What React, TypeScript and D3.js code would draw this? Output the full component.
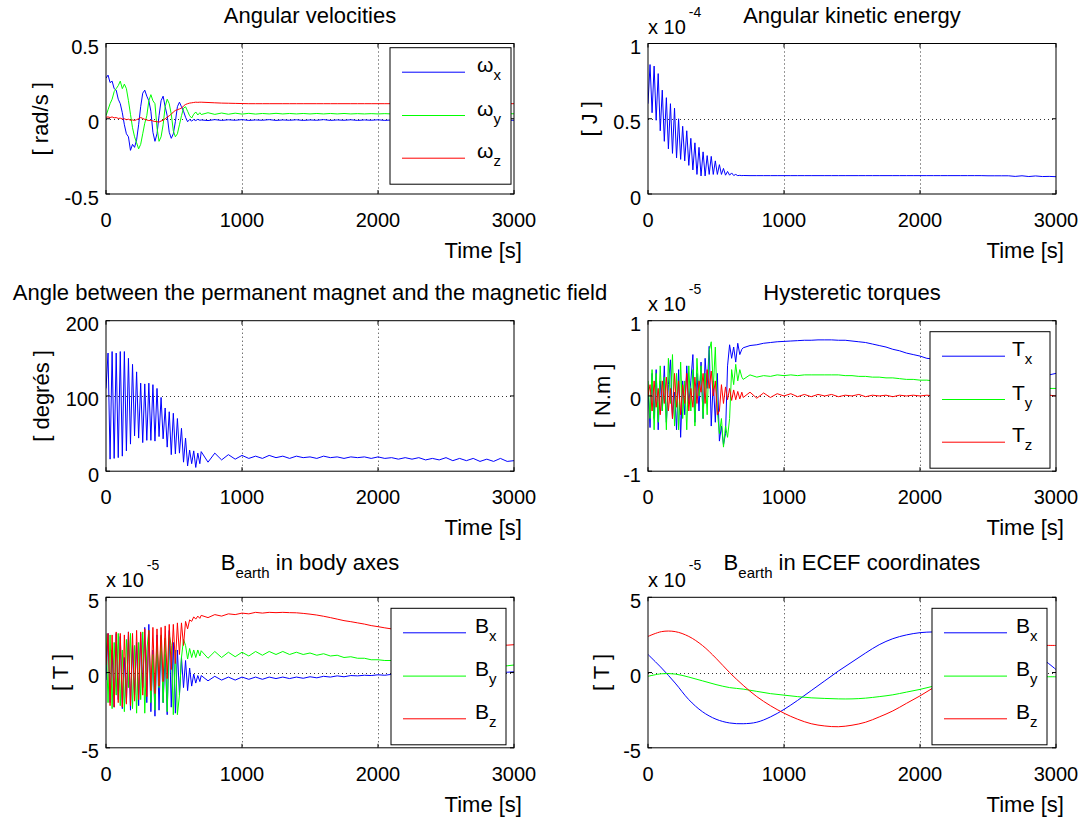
import React from 'react';
import * as d3 from 'd3';

const FONT = '"Liberation Sans", Arial, Helvetica, sans-serif';
const BLUE = '#0000ff';
const GREEN = '#00ff00';
const RED = '#ff0000';

// ---------- time grids ----------
const tFast = [0, 15, 30, 45, 60, 75, 90, 105, 120, 135, 150, 165, 180, 195, 210, 225, 240, 255, 270, 285, 300, 315, 330, 345, 360, 375, 390, 405, 420, 435, 450, 465, 480, 495, 510, 525, 540, 555, 570, 585, 600, 615, 630, 645, 660, 675, 690];
const tSlow = [700, 750, 800, 850, 900, 950, 1000, 1050, 1100, 1150, 1200, 1250, 1300, 1350, 1400, 1450, 1500, 1550, 1600, 1650, 1700, 1750, 1800, 1850, 1900, 1950, 2000, 2050, 2100, 2150, 2200, 2250, 2300, 2350, 2400, 2450, 2500, 2550, 2600, 2650, 2700, 2750, 2800, 2850, 2900, 2950, 3000];
const tEcef = [0, 100, 200, 300, 400, 500, 600, 700, 800, 900, 1000, 1100, 1200, 1300, 1400, 1500, 1600, 1700, 1800, 1900, 2000, 2100, 2200, 2300, 2400, 2500, 2600, 2700, 2800, 2900, 3000];

const xTicks = [0, 1000, 2000, 3000];
const xTickLabels = ['0', '1000', '2000', '3000'];

// ---------- Angular velocities [rad/s] ----------
const wxFast = [0.27, 0.29, 0.24, 0.25, 0.2, 0.19, 0.13, 0.1, 0.04, -0.04, -0.1, -0.12, -0.21, -0.17, -0.19, -0.14, -0.04, 0.08, 0.17, 0.19, 0.15, 0.12, 0.05, -0.09, -0.15, -0.1, 0.02, 0.12, 0.15, 0.08, 0.02, -0.09, -0.13, -0.1, -0.02, 0.08, 0.11, 0.08, 0.05, 0.01, -0.02, -0.005, -0.015, -0.005, -0.012, -0.004, -0.01];
const wxSlow = [-0.008, -0.012, -0.006, -0.011, -0.007, -0.01, -0.006, -0.011, -0.008, -0.01, -0.006, -0.011, -0.008, -0.01, -0.007, -0.011, -0.008, -0.01, -0.006, -0.011, -0.008, -0.01, -0.007, -0.011, -0.008, -0.01, -0.007, -0.011, -0.008, -0.01, -0.007, -0.011, -0.008, -0.01, -0.007, -0.011, -0.008, -0.01, -0.007, -0.011, -0.008, -0.01, -0.007, -0.011, -0.008, -0.01, -0.01];
const wyFast = [0.02, 0.06, 0.1, 0.13, 0.18, 0.2, 0.22, 0.25, 0.2, 0.23, 0.2, 0.12, 0.03, -0.06, -0.12, -0.16, -0.2, -0.17, -0.1, -0.03, 0.02, 0.12, 0.16, 0.12, 0.1, -0.06, -0.15, -0.12, -0.04, 0.08, 0.13, 0.1, 0.03, -0.08, -0.12, -0.1, -0.04, 0.02, 0.07, 0.08, 0.05, 0.02, 0.005, 0.03, 0.045, 0.025, 0.04];
const wySlow = [0.028, 0.04, 0.029, 0.038, 0.03, 0.037, 0.031, 0.036, 0.031, 0.035, 0.032, 0.036, 0.032, 0.035, 0.032, 0.035, 0.032, 0.035, 0.032, 0.035, 0.032, 0.035, 0.032, 0.034, 0.032, 0.034, 0.032, 0.034, 0.032, 0.034, 0.032, 0.034, 0.032, 0.034, 0.032, 0.034, 0.032, 0.034, 0.032, 0.034, 0.032, 0.034, 0.032, 0.034, 0.032, 0.034, 0.033];
const wzFast = [0.01, 0.012, 0.008, 0.012, 0.006, 0.008, 0.002, 0.004, -0.002, 0.0, -0.006, -0.003, -0.01, -0.008, -0.012, -0.006, 0.0, 0.008, 0.002, -0.004, -0.008, -0.012, -0.01, -0.015, -0.018, -0.02, -0.022, -0.015, -0.01, 0.0, 0.01, 0.02, 0.03, 0.045, 0.055, 0.06, 0.065, 0.07, 0.085, 0.095, 0.1, 0.104, 0.106, 0.108, 0.11, 0.109, 0.11];
const wzSlow = [0.11, 0.108, 0.106, 0.104, 0.103, 0.102, 0.101, 0.1, 0.1, 0.1, 0.1, 0.1, 0.1, 0.1, 0.1, 0.1, 0.1, 0.1, 0.1, 0.1, 0.1, 0.1, 0.1, 0.1, 0.1, 0.1, 0.1, 0.1, 0.1, 0.1, 0.1, 0.1, 0.1, 0.1, 0.1, 0.1, 0.1, 0.1, 0.1, 0.1, 0.1, 0.1, 0.1, 0.1, 0.1, 0.1, 0.1];

// ---------- Angular kinetic energy [x1e-4 J] ----------
const keFast = [0.6, 0.86, 0.54, 0.85, 0.49, 0.8, 0.42, 0.69, 0.35, 0.64, 0.3, 0.6, 0.27, 0.57, 0.24, 0.5, 0.23, 0.45, 0.22, 0.42, 0.19, 0.37, 0.16, 0.34, 0.13, 0.31, 0.12, 0.28, 0.12, 0.255, 0.13, 0.25, 0.13, 0.22, 0.13, 0.195, 0.13, 0.17, 0.125, 0.15, 0.125, 0.14, 0.123, 0.13, 0.122, 0.124, 0.122];
const keSlow = [0.123, 0.122, 0.122, 0.122, 0.122, 0.122, 0.122, 0.122, 0.122, 0.122, 0.122, 0.122, 0.122, 0.122, 0.122, 0.122, 0.122, 0.122, 0.122, 0.122, 0.122, 0.122, 0.122, 0.122, 0.122, 0.122, 0.122, 0.122, 0.122, 0.122, 0.122, 0.122, 0.122, 0.122, 0.122, 0.122, 0.121, 0.121, 0.121, 0.121, 0.117, 0.121, 0.116, 0.12, 0.116, 0.117, 0.115];

// ---------- Angle magnet / field [deg] ----------
const angFast = [110, 157, 16, 159, 17, 157, 18, 159, 20, 159, 27, 150, 36, 142, 47, 132, 44, 117, 38, 116, 41, 117, 41, 115, 40, 110, 46, 98, 43, 84, 32, 79, 22, 77, 23, 70, 24, 57, 12, 44, 7, 28, 10, 27, 5, 24, 10];
const angSlow = [26, 12, 24, 15, 22, 16, 21, 17, 20, 17, 21, 18, 20, 17, 20, 18, 19, 17, 20, 18, 19, 17, 19, 18, 19, 17, 19, 17, 18, 16, 18, 16, 18, 15, 17, 15, 18, 14, 17, 14, 17, 13, 16, 13, 17, 13, 14];

// ---------- Hysteretic torques [x1e-5 N.m] ----------
const txFast = [0.1, -0.42, 0.3, -0.3, 0.35, -0.45, 0.2, -0.2, 0.4, -0.35, 0.15, 0.48, -0.3, 0.05, -0.45, 0.35, -0.55, 0.2, -0.25, 0.4, -0.1, 0.2, 0.55, -0.35, 0.3, -0.2, 0.45, -0.3, 0.5, 0.1, 0.66, -0.4, 0.2, -0.35, 0.3, -0.6, -0.4, -0.65, -0.5, 0.4, 0.68, 0.5, 0.65, 0.45, 0.7, 0.55, 0.62];
const txSlow = [0.64, 0.67, 0.68, 0.7, 0.71, 0.72, 0.725, 0.73, 0.735, 0.74, 0.74, 0.745, 0.745, 0.745, 0.74, 0.74, 0.73, 0.72, 0.71, 0.69, 0.67, 0.65, 0.62, 0.6, 0.57, 0.55, 0.53, 0.5, 0.49, 0.47, 0.46, 0.44, 0.43, 0.41, 0.4, 0.38, 0.37, 0.36, 0.34, 0.33, 0.32, 0.31, 0.3, 0.29, 0.28, 0.28, 0.3];
const tyFast = [0.2, -0.3, 0.35, -0.45, 0.3, -0.35, 0.4, -0.2, 0.25, -0.45, 0.5, -0.1, 0.55, -0.4, 0.3, -0.45, 0.45, -0.3, 0.2, -0.45, 0.4, -0.2, 0.35, -0.4, 0.5, 0.0, 0.4, -0.3, 0.3, -0.25, 0.6, 0.72, 0.1, 0.65, -0.2, -0.5, -0.3, -0.68, -0.4, -0.55, -0.3, 0.35, 0.15, 0.42, 0.2, 0.35, 0.25];
const tySlow = [0.22, 0.28, 0.25, 0.27, 0.26, 0.28, 0.27, 0.28, 0.27, 0.28, 0.28, 0.28, 0.28, 0.28, 0.28, 0.27, 0.27, 0.26, 0.26, 0.25, 0.25, 0.24, 0.24, 0.23, 0.22, 0.22, 0.21, 0.21, 0.2, 0.2, 0.19, 0.19, 0.18, 0.17, 0.17, 0.16, 0.15, 0.15, 0.14, 0.13, 0.13, 0.12, 0.12, 0.11, 0.11, 0.1, 0.1];
const tzFast = [0.0, 0.15, -0.2, 0.2, -0.15, 0.1, -0.25, 0.2, -0.1, 0.25, -0.2, 0.1, -0.3, 0.3, -0.15, 0.2, -0.25, 0.15, -0.1, 0.3, -0.2, 0.1, -0.15, 0.25, -0.1, 0.2, 0.05, 0.3, -0.1, 0.35, 0.1, 0.33, 0.0, 0.2, -0.25, -0.2, 0.15, -0.1, 0.12, -0.05, 0.1, -0.06, 0.08, -0.05, 0.06, -0.04, 0.05];
const tzSlow = [-0.02, 0.05, -0.03, 0.04, -0.02, 0.03, 0.0, 0.03, -0.01, 0.02, -0.01, 0.02, 0.0, 0.02, -0.01, 0.01, 0.0, 0.02, -0.01, 0.01, 0.0, 0.01, -0.01, 0.01, 0.0, 0.01, 0.0, 0.01, 0.0, 0.01, 0.0, 0.01, 0.0, 0.01, 0.0, 0.01, 0.0, 0.01, 0.0, 0.01, 0.0, 0.01, 0.0, 0.01, 0.0, 0.01, 0.0];

// ---------- B earth in body axes [x1e-5 T] ----------
const bxFast = [-0.5, 2.6, -2.0, 1.5, -2.3, 2.6, -1.8, 2.4, -2.4, 1.0, -2.0, 2.7, -2.5, 1.8, -1.5, 2.0, -2.2, 2.6, -1.0, 3.0, -2.0, 3.2, -2.6, 1.5, -2.9, 2.5, -2.5, 2.4, -2.0, 1.2, -2.8, 2.8, -2.3, 2.0, -2.7, 1.5, -1.5, 1.0, -1.0, 0.8, -1.2, 0.3, -0.9, -0.1, -0.7, -0.2, -0.6];
const bxSlow = [-0.2, -0.55, -0.25, -0.5, -0.3, -0.5, -0.3, -0.45, -0.3, -0.45, -0.3, -0.4, -0.3, -0.4, -0.3, -0.38, -0.28, -0.35, -0.25, -0.3, -0.22, -0.28, -0.2, -0.22, -0.18, -0.2, -0.15, -0.18, -0.12, -0.15, -0.1, -0.12, -0.08, -0.1, -0.06, -0.08, -0.04, -0.06, -0.02, -0.04, 0.0, -0.02, 0.02, 0.0, 0.04, 0.02, 0.05];
const byFast = [2.6, -2.0, 2.5, -2.4, 2.0, -1.5, 2.6, -2.2, 1.5, -2.6, 2.2, -1.0, 2.6, -2.4, 1.8, -2.7, 2.0, -1.8, 2.7, -2.7, 1.5, 2.8, -2.0, 1.2, -2.5, 2.0, -1.0, 2.5, -2.0, 2.3, -2.6, 2.5, 1.8, -2.8, 1.5, -2.8, -1.5, 1.0, 2.2, 1.8, 0.9, 1.6, 1.0, 1.5, 1.0, 1.5, 1.1];
const bySlow = [1.45, 0.95, 1.4, 1.0, 1.35, 1.05, 1.35, 1.1, 1.4, 1.15, 1.4, 1.2, 1.4, 1.2, 1.35, 1.2, 1.3, 1.15, 1.25, 1.1, 1.15, 1.0, 1.05, 0.95, 0.95, 0.85, 0.85, 0.8, 0.8, 0.75, 0.75, 0.7, 0.7, 0.65, 0.65, 0.6, 0.6, 0.55, 0.55, 0.5, 0.5, 0.5, 0.45, 0.45, 0.4, 0.45, 0.5];
const bzFast = [0.5, 2.6, -2.2, 2.5, -2.3, 2.7, -2.0, 2.6, -2.3, 2.5, -2.1, 2.7, -2.2, 2.6, -1.9, 2.8, -1.8, 2.7, -1.5, 2.9, -1.6, 2.8, -1.2, 3.0, -1.4, 2.9, -0.9, 3.0, -0.6, 3.1, -0.4, 3.2, 0.2, 3.2, 0.6, 3.3, 1.2, 3.3, 1.8, 3.4, 2.9, 3.5, 3.4, 3.7, 3.55, 3.75, 3.6];
const bzSlow = [3.8, 3.65, 3.85, 3.75, 3.9, 3.85, 3.95, 3.9, 4.0, 3.95, 4.0, 3.98, 4.0, 3.98, 3.97, 3.93, 3.88, 3.82, 3.74, 3.65, 3.55, 3.45, 3.38, 3.3, 3.22, 3.12, 3.05, 2.97, 2.9, 2.82, 2.75, 2.68, 2.6, 2.52, 2.45, 2.38, 2.3, 2.23, 2.17, 2.1, 2.04, 1.98, 1.92, 1.88, 1.85, 1.82, 1.85];

// ---------- B earth in ECEF [x1e-5 T] ----------
const exVals = [1.2, 0.3, -0.7, -1.8, -2.6, -3.1, -3.35, -3.4, -3.3, -2.95, -2.45, -1.85, -1.2, -0.55, 0.1, 0.7, 1.3, 1.85, 2.25, 2.5, 2.65, 2.7, 2.7, 2.6, 2.45, 2.25, 2.0, 1.7, 1.35, 0.9, 0.2];
const eyVals = [-0.25, -0.08, -0.1, -0.3, -0.55, -0.8, -1.0, -1.1, -1.25, -1.4, -1.5, -1.6, -1.68, -1.72, -1.75, -1.75, -1.7, -1.6, -1.48, -1.3, -1.12, -0.9, -0.7, -0.55, -0.45, -0.38, -0.32, -0.3, -0.28, -0.28, -0.28];
const ezVals = [2.4, 2.72, 2.72, 2.4, 1.8, 0.95, 0.0, -0.85, -1.6, -2.2, -2.7, -3.1, -3.4, -3.55, -3.6, -3.5, -3.3, -2.95, -2.55, -2.05, -1.55, -1.0, -0.45, 0.1, 0.6, 1.0, 1.35, 1.6, 1.75, 1.8, 1.8];

// ---------- helpers ----------
type Pt = [number, number];
const pair = (t: number[], v: number[]): Pt[] => t.map((ti, i) => [ti, v[i]] as Pt);
const joined = (t1: number[], v1: number[], t2: number[], v2: number[]): Pt[] => pair(t1, v1).concat(pair(t2, v2));

// ---------- layout ----------
const W = 408;
const H = 150.5;
const COLS = [106, 648];
const ROWS = [43.5, 320.7, 597.3];

type Seg = { text: string; sub?: boolean };
type Series = { color: string; pts: Pt[]; name: string };
type Legend = { sym: string; inset: number; topInset: number; w: number; textDx: number };
type PanelCfg = {
  col: number; row: number;
  yDomain: [number, number]; yTicks: number[]; yLabels: string[];
  title: Seg[]; ylabel: string; ylabelDx: number; exponent?: string;
  series: Series[]; legend?: Legend; smooth?: boolean;
};

const PANELS: PanelCfg[] = [
  {
    col: 0, row: 0, yDomain: [-0.5, 0.5], yTicks: [-0.5, 0, 0.5], yLabels: ['-0.5', '0', '0.5'],
    title: [{ text: 'Angular velocities' }], ylabel: '[ rad/s ]', ylabelDx: -66,
    series: [
      { name: 'x', color: BLUE, pts: joined(tFast, wxFast, tSlow, wxSlow) },
      { name: 'y', color: GREEN, pts: joined(tFast, wyFast, tSlow, wySlow) },
      { name: 'z', color: RED, pts: joined(tFast, wzFast, tSlow, wzSlow) },
    ],
    legend: { sym: 'ω', inset: 3, topInset: 4.2, w: 121, textDx: 87 },
  },
  {
    col: 1, row: 0, yDomain: [0, 1], yTicks: [0, 0.5, 1], yLabels: ['0', '0.5', '1'],
    title: [{ text: 'Angular kinetic energy' }], ylabel: '[ J ]', ylabelDx: -59, exponent: '-4',
    series: [{ name: '', color: BLUE, pts: joined(tFast, keFast, tSlow, keSlow) }],
  },
  {
    col: 0, row: 1, yDomain: [0, 200], yTicks: [0, 100, 200], yLabels: ['0', '100', '200'],
    title: [{ text: 'Angle between the permanent magnet and the magnetic field' }], ylabel: '[ degrés ]', ylabelDx: -65,
    series: [{ name: '', color: BLUE, pts: joined(tFast, angFast, tSlow, angSlow) }],
  },
  {
    col: 1, row: 1, yDomain: [-1, 1], yTicks: [-1, 0, 1], yLabels: ['-1', '0', '1'],
    title: [{ text: 'Hysteretic torques' }], ylabel: '[ N.m ]', ylabelDx: -46, exponent: '-5',
    series: [
      { name: 'x', color: BLUE, pts: joined(tFast, txFast, tSlow, txSlow) },
      { name: 'y', color: GREEN, pts: joined(tFast, tyFast, tSlow, tySlow) },
      { name: 'z', color: RED, pts: joined(tFast, tzFast, tSlow, tzSlow) },
    ],
    legend: { sym: 'T', inset: 6, topInset: 11, w: 120, textDx: 82 },
  },
  {
    col: 0, row: 2, yDomain: [-5, 5], yTicks: [-5, 0, 5], yLabels: ['-5', '0', '5'],
    title: [{ text: 'B' }, { text: 'earth', sub: true }, { text: ' in body axes' }], ylabel: '[ T ]', ylabelDx: -46, exponent: '-5',
    series: [
      { name: 'x', color: BLUE, pts: joined(tFast, bxFast, tSlow, bxSlow) },
      { name: 'y', color: GREEN, pts: joined(tFast, byFast, tSlow, bySlow) },
      { name: 'z', color: RED, pts: joined(tFast, bzFast, tSlow, bzSlow) },
    ],
    legend: { sym: 'B', inset: 8, topInset: 11, w: 115, textDx: 84 },
  },
  {
    col: 1, row: 2, yDomain: [-5, 5], yTicks: [-5, 0, 5], yLabels: ['-5', '0', '5'],
    title: [{ text: 'B' }, { text: 'earth', sub: true }, { text: ' in ECEF coordinates' }], ylabel: '[ T ]', ylabelDx: -47, exponent: '-5',
    series: [
      { name: 'x', color: BLUE, pts: pair(tEcef, exVals) },
      { name: 'y', color: GREEN, pts: pair(tEcef, eyVals) },
      { name: 'z', color: RED, pts: pair(tEcef, ezVals) },
    ],
    legend: { sym: 'B', inset: 9, topInset: 11, w: 115, textDx: 84 },
    smooth: true,
  },
];

function Panel({ cfg, idx }: { cfg: PanelCfg; idx: number }) {
  const left = COLS[cfg.col];
  const top = ROWS[cfg.row];
  const right = left + W;
  const bottom = top + H;
  const x = d3.scaleLinear().domain([0, 3000]).range([left, right]);
  const y = d3.scaleLinear().domain(cfg.yDomain).range([bottom, top]);
  const line = d3.line<Pt>().x(d => x(d[0])).y(d => y(d[1]))
    .curve(cfg.smooth ? d3.curveCatmullRom : d3.curveLinear);
  const clipId = `clip${idx}`;
  const hasSub = cfg.title.some(s => s.sub);
  const titleY = hasSub ? top - 27 : top - 21;
  const tickLen = 4;

  const lg = cfg.legend;
  const lgH = 136.5;
  const lgX0 = lg ? right - lg.inset - lg.w : 0;
  const lgY0 = lg ? top + lg.topInset : 0;
  const rowDy = [24.5, 67.8, 110.5];

  return (
    <g>
      <defs>
        <clipPath id={clipId}>
          <rect x={left} y={top} width={W} height={H} />
        </clipPath>
      </defs>
      <rect x={left} y={top} width={W} height={H} fill="#fff" />
      {/* grid */}
      <g stroke="#000" strokeWidth={1} strokeDasharray="1 3" opacity={0.8}>
        {xTicks.slice(1, -1).map(t => (
          <line key={`gx${t}`} x1={Math.round(x(t)) + 0.5} x2={Math.round(x(t)) + 0.5} y1={top} y2={bottom} />
        ))}
        {cfg.yTicks.slice(1, -1).map(t => (
          <line key={`gy${t}`} x1={left} x2={right} y1={Math.round(y(t)) + 0.5} y2={Math.round(y(t)) + 0.5} />
        ))}
      </g>
      {/* data */}
      <g clipPath={`url(#${clipId})`} fill="none" strokeWidth={1}>
        {cfg.series.map((s, i) => (
          <path key={i} d={line(s.pts) || ''} stroke={s.color} strokeLinejoin="round" />
        ))}
      </g>
      {/* ticks */}
      <g stroke="#000" strokeWidth={1}>
        {xTicks.map(t => (
          <g key={`tx${t}`}>
            <line x1={x(t)} x2={x(t)} y1={bottom} y2={bottom - tickLen} />
            <line x1={x(t)} x2={x(t)} y1={top} y2={top + tickLen} />
          </g>
        ))}
        {cfg.yTicks.map(t => (
          <g key={`ty${t}`}>
            <line x1={left} x2={left + tickLen} y1={y(t)} y2={y(t)} />
            <line x1={right} x2={right - tickLen} y1={y(t)} y2={y(t)} />
          </g>
        ))}
      </g>
      <rect x={left} y={top} width={W} height={H} fill="none" stroke="#000" strokeWidth={1} />
      {/* legend */}
      {lg && (
        <g>
          <rect x={lgX0} y={lgY0} width={lg.w} height={lgH} fill="#fff" stroke="#000" strokeWidth={1} />
          {cfg.series.map((s, i) => (
            <g key={`lg${i}`}>
              <line x1={lgX0 + 12} x2={lgX0 + 75} y1={lgY0 + rowDy[i]} y2={lgY0 + rowDy[i]} stroke={s.color} strokeWidth={1} />
              <text x={lgX0 + lg.textDx} y={lgY0 + rowDy[i]} fontSize={21} fontFamily={FONT} fill="#000">
                {lg.sym}
                <tspan fontSize={15} dy={8}>{s.name}</tspan>
              </text>
            </g>
          ))}
        </g>
      )}
      {/* tick labels */}
      <g fontFamily={FONT} fontSize={20} fill="#000">
        {xTicks.map((t, i) => (
          <text key={`xl${t}`} x={x(t)} y={bottom + 33} textAnchor="middle">{xTickLabels[i]}</text>
        ))}
        {cfg.yTicks.map((t, i) => (
          <text key={`yl${t}`} x={left - 7} y={y(t) + 10.5} textAnchor="end">{cfg.yLabels[i]}</text>
        ))}
      </g>
      {cfg.exponent && (
        <text x={left} y={top - 10} fontFamily={FONT} fontSize={20} fill="#000">
          x 10
          <tspan dx={3} dy={-17} fontSize={14}>{cfg.exponent}</tspan>
        </text>
      )}
      {/* x label */}
      <text x={right + 8} y={bottom + 64} textAnchor="end" fontFamily={FONT} fontSize={22} fill="#000">Time [s]</text>
      {/* y label */}
      <text
        transform={`translate(${left + cfg.ylabelDx},${top + H / 2}) rotate(-90)`}
        textAnchor="middle" dominantBaseline="central" fontFamily={FONT} fontSize={22} fill="#000"
      >{cfg.ylabel}</text>
      {/* title */}
      <text x={(left + right) / 2} y={titleY} textAnchor="middle" fontFamily={FONT} fontSize={22} fill="#000">
        {cfg.title.map((s, i) => {
          const prev = i > 0 ? cfg.title[i - 1] : null;
          let dy = 0;
          if (s.sub) dy = 8;
          else if (prev && prev.sub) dy = -8;
          return (
            <tspan key={i} dy={dy} fontSize={s.sub ? 15 : 22}>{s.text}</tspan>
          );
        })}
      </text>
    </g>
  );
}

export default function App() {
  return (
    <svg
      width={1089}
      height={819}
      viewBox="0 0 1089 819"
      style={{ position: 'absolute', left: 0, top: 0, background: '#fff' }}
    >
      <rect x={0} y={0} width={1089} height={819} fill="#fff" />
      {PANELS.map((p, i) => <Panel key={i} cfg={p} idx={i} />)}
    </svg>
  );
}
